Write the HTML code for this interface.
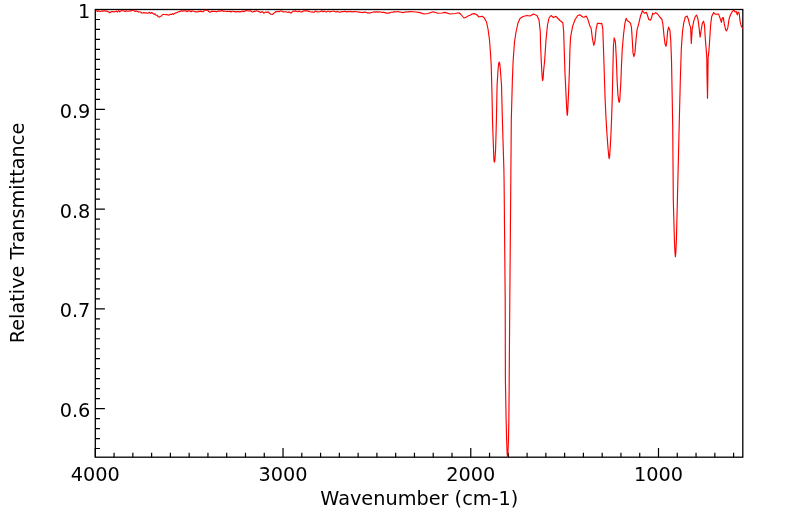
<!DOCTYPE html>
<html>
<head>
<meta charset="utf-8">
<title>IR Spectrum</title>
<style>
html,body{margin:0;padding:0;background:#fff;}
body{width:799px;height:516px;overflow:hidden;}
svg{display:block;}
text{font-family:"DejaVu Sans","Liberation Sans",sans-serif;font-size:19.3px;fill:#000;}
</style>
</head>
<body>
<svg width="799" height="516" viewBox="0 0 799 516">
<rect x="0" y="0" width="799" height="516" fill="#ffffff"/>
<rect x="95.3" y="9.5" width="647.5" height="447.7" fill="none" stroke="#000" stroke-width="1.3"/>
<path d="M95.30 457.2 v-9.2 M114.07 457.2 v-4.4 M132.85 457.2 v-4.4 M151.62 457.2 v-4.4 M170.39 457.2 v-4.4 M189.17 457.2 v-4.4 M207.94 457.2 v-4.4 M226.71 457.2 v-4.4 M245.49 457.2 v-4.4 M264.26 457.2 v-4.4 M283.03 457.2 v-9.2 M301.81 457.2 v-4.4 M320.58 457.2 v-4.4 M339.35 457.2 v-4.4 M358.13 457.2 v-4.4 M376.90 457.2 v-4.4 M395.67 457.2 v-4.4 M414.45 457.2 v-4.4 M433.22 457.2 v-4.4 M451.99 457.2 v-4.4 M470.77 457.2 v-9.2 M489.54 457.2 v-4.4 M508.31 457.2 v-4.4 M527.09 457.2 v-4.4 M545.86 457.2 v-4.4 M564.63 457.2 v-4.4 M583.41 457.2 v-4.4 M602.18 457.2 v-4.4 M620.95 457.2 v-4.4 M639.73 457.2 v-4.4 M658.50 457.2 v-9.2 M677.27 457.2 v-4.4 M696.05 457.2 v-4.4 M714.82 457.2 v-4.4 M733.59 457.2 v-4.4 M95.3 9.52 h9.6 M95.3 19.50 h4.75 M95.3 29.47 h4.75 M95.3 39.45 h4.75 M95.3 49.43 h4.75 M95.3 59.41 h4.75 M95.3 69.38 h4.75 M95.3 79.36 h4.75 M95.3 89.34 h4.75 M95.3 99.31 h4.75 M95.3 109.29 h9.6 M95.3 119.27 h4.75 M95.3 129.24 h4.75 M95.3 139.22 h4.75 M95.3 149.20 h4.75 M95.3 159.18 h4.75 M95.3 169.15 h4.75 M95.3 179.13 h4.75 M95.3 189.11 h4.75 M95.3 199.08 h4.75 M95.3 209.06 h9.6 M95.3 219.04 h4.75 M95.3 229.01 h4.75 M95.3 238.99 h4.75 M95.3 248.97 h4.75 M95.3 258.94 h4.75 M95.3 268.92 h4.75 M95.3 278.90 h4.75 M95.3 288.88 h4.75 M95.3 298.85 h4.75 M95.3 308.83 h9.6 M95.3 318.81 h4.75 M95.3 328.78 h4.75 M95.3 338.76 h4.75 M95.3 348.74 h4.75 M95.3 358.71 h4.75 M95.3 368.69 h4.75 M95.3 378.67 h4.75 M95.3 388.65 h4.75 M95.3 398.62 h4.75 M95.3 408.60 h9.6 M95.3 418.58 h4.75 M95.3 428.55 h4.75 M95.3 438.53 h4.75 M95.3 448.51 h4.75" fill="none" stroke="#000" stroke-width="1.2"/>
<polyline fill="none" stroke="#ff0000" stroke-width="1.15" stroke-linejoin="round" points="95.5,10.8 96.6,10.7 97.7,11.5 98.8,10.8 99.9,11.6 101.0,11.3 102.1,10.8 103.2,11.4 104.3,10.6 105.4,11.2 106.5,11.0 107.6,11.3 108.7,12.0 109.8,12.9 110.9,11.9 112.0,11.5 113.1,11.6 114.2,12.0 115.3,11.5 116.4,11.2 117.5,12.0 118.6,10.7 119.7,11.8 120.8,11.0 121.9,10.7 123.0,10.7 124.1,10.9 125.2,11.6 126.3,10.7 127.4,11.2 128.5,11.2 129.6,10.8 130.7,11.1 131.8,10.4 132.9,10.5 134.0,10.7 135.1,11.4 136.2,11.1 137.3,11.3 138.4,11.9 139.5,12.0 140.6,12.0 141.7,13.0 142.8,13.0 143.9,12.6 145.0,13.0 146.1,12.9 147.2,13.3 148.3,13.0 149.4,12.3 150.5,13.4 151.6,12.5 152.7,13.3 153.8,14.1 154.9,13.9 156.0,15.1 157.1,15.2 158.2,16.8 159.3,17.1 160.4,16.2 161.5,16.0 162.6,14.5 163.7,14.5 164.8,14.5 165.9,14.7 167.0,14.5 168.1,15.0 169.2,15.1 170.3,14.3 171.4,14.5 172.5,13.6 173.6,14.4 174.7,13.2 175.8,12.9 176.9,12.8 178.0,12.1 179.1,11.6 180.2,11.5 181.3,10.6 182.4,11.2 183.5,10.8 184.6,10.8 185.7,10.7 186.8,11.7 187.9,10.8 189.0,10.9 190.1,11.1 191.2,11.8 192.3,10.8 193.4,11.3 194.5,11.5 195.6,11.9 196.7,11.9 197.8,12.0 198.9,11.2 200.0,11.4 201.1,11.1 202.2,11.7 203.3,11.6 204.4,10.3 205.5,10.2 206.6,10.2 207.7,10.4 208.8,11.5 209.9,12.3 211.0,11.7 212.1,11.1 213.2,11.5 214.3,11.2 215.4,11.4 216.5,11.8 217.6,11.4 218.7,11.1 219.8,11.1 220.9,11.1 222.0,10.2 223.1,11.3 224.2,11.0 225.3,11.2 226.4,11.5 227.5,11.3 228.6,11.5 229.7,11.2 230.8,12.0 231.9,11.2 233.0,11.3 234.1,11.6 235.2,11.6 236.3,11.9 237.4,11.6 238.5,11.6 239.6,11.9 240.7,11.6 241.8,11.7 242.9,10.9 244.0,11.7 245.1,11.1 246.2,10.5 247.3,10.7 248.4,10.9 249.5,11.0 250.6,10.7 251.7,11.8 252.8,12.0 253.9,11.3 255.0,11.4 256.1,10.9 257.2,11.0 258.3,11.4 259.4,11.6 260.5,12.6 261.6,11.8 262.7,11.9 263.8,13.2 264.9,12.6 266.0,12.0 267.1,12.5 268.2,11.8 269.3,13.0 270.4,14.0 271.5,14.3 272.6,14.4 273.7,13.3 274.8,12.6 275.9,11.5 277.0,11.7 278.1,11.3 279.2,11.7 280.3,11.0 281.4,10.9 282.5,11.7 283.6,11.9 284.7,11.7 285.8,11.8 286.9,12.1 288.0,12.3 289.1,11.9 290.2,12.8 291.3,12.8 292.4,11.7 293.5,11.1 294.6,11.1 295.7,10.9 296.8,11.5 297.9,11.8 299.0,11.1 300.1,11.8 301.2,11.9 302.3,11.8 303.4,11.0 304.5,10.8 305.6,10.8 306.7,10.8 307.8,10.8 308.9,11.4 310.0,11.8 311.1,12.0 312.2,11.9 313.3,12.3 314.4,12.2 315.5,11.0 316.6,11.6 317.7,12.0 318.8,11.8 319.9,11.7 321.0,11.3 322.1,10.9 323.2,11.8 324.3,11.1 325.4,11.8 326.5,12.0 327.6,11.2 328.7,11.2 329.8,11.9 330.9,11.5 332.0,11.2 333.1,11.2 334.2,11.3 335.3,11.8 336.4,11.8 337.5,11.4 338.6,12.0 339.7,12.1 340.8,11.9 341.9,11.6 343.0,11.7 344.1,11.4 345.2,11.3 346.3,11.9 347.4,11.6 348.5,11.5 349.6,11.7 350.7,11.4 351.8,11.8 352.9,11.8 354.0,11.5 355.1,11.6 356.2,11.7 357.3,11.8 358.4,12.1 359.5,12.1 360.6,12.3 361.7,12.3 362.8,12.7 363.9,12.1 365.0,12.0 366.1,12.3 367.2,12.8 368.3,12.8 369.4,13.2 370.5,12.7 371.6,12.5 372.7,12.3 373.8,11.8 374.9,12.1 376.0,11.9 377.1,11.7 378.2,12.3 379.3,11.8 380.4,12.0 381.5,12.3 382.6,12.4 383.7,12.3 384.8,12.6 385.9,12.9 387.0,13.3 388.1,13.1 389.2,13.1 390.3,12.5 391.4,12.2 392.5,12.3 393.6,11.9 394.7,11.8 395.8,11.8 396.9,11.7 398.0,11.6 399.1,11.9 400.2,12.0 401.3,12.3 402.4,12.6 403.5,12.4 404.6,12.2 405.7,11.9 406.8,12.0 407.9,11.8 409.0,11.8 410.0,11.5 416.0,12.0 420.0,12.6 424.0,14.0 428.0,13.5 433.0,11.8 438.0,13.3 442.0,13.0 445.0,12.4 450.0,14.0 455.0,13.5 459.0,12.8 461.0,14.5 464.0,18.0 466.0,17.2 468.0,16.0 470.0,15.2 472.0,14.0 474.0,13.6 476.5,14.5 479.0,17.0 482.0,16.2 484.0,17.5 486.5,22.0 488.0,29.0 489.5,40.0 490.6,55.0 491.2,65.0 491.9,90.0 492.5,120.0 493.0,135.0 493.5,149.0 493.8,157.0 494.0,160.8 494.4,162.2 494.8,160.8 495.1,157.0 495.6,149.0 496.0,135.0 496.4,120.0 497.1,85.0 498.0,70.0 498.7,63.5 499.2,62.0 499.7,63.5 500.4,70.0 501.5,85.0 502.4,120.0 503.9,170.0 504.1,182.0 505.2,300.0 505.4,380.0 506.1,419.0 506.7,442.0 507.1,453.0 507.5,457.1 507.9,453.0 508.4,442.0 508.9,419.0 509.2,380.0 509.8,300.0 510.8,182.0 511.3,120.0 512.4,79.0 513.2,60.0 514.5,42.0 516.0,32.0 518.0,23.0 520.0,18.5 523.0,16.5 527.0,15.5 530.0,16.0 533.5,14.0 537.0,15.5 539.0,20.0 540.3,32.0 540.6,45.0 541.2,60.0 541.8,71.0 542.3,78.5 542.7,80.7 543.1,78.5 543.6,71.0 544.7,60.0 546.0,40.0 547.5,25.0 549.0,18.0 551.0,15.5 553.5,17.5 556.0,16.3 558.0,18.5 560.0,20.5 562.8,22.7 563.7,31.5 563.9,40.0 564.4,55.0 564.9,71.0 566.0,94.3 566.6,106.7 567.0,113.5 567.3,115.3 567.6,113.5 567.9,106.7 568.5,94.3 569.4,71.0 569.9,50.0 570.6,37.0 572.6,26.4 575.1,19.5 577.6,15.7 579.8,14.7 582.7,17.0 584.2,17.3 586.2,16.1 587.7,18.9 589.6,25.2 591.1,28.3 592.5,39.0 593.8,45.3 594.9,41.6 596.1,29.0 597.4,23.3 599.3,23.3 600.3,23.8 601.8,23.3 602.8,29.0 603.7,55.0 605.1,99.0 606.0,118.0 606.9,133.0 608.0,148.0 608.8,156.5 609.2,158.6 609.6,156.5 610.2,148.0 611.0,133.0 611.7,115.0 612.3,97.0 613.1,60.0 613.5,45.0 614.2,37.8 615.4,41.6 616.3,58.0 617.1,80.3 617.9,94.5 618.7,100.8 619.2,102.4 619.7,100.8 620.1,94.5 620.9,81.0 621.5,65.0 622.2,50.0 623.6,34.0 624.9,23.3 626.1,18.3 627.4,20.8 629.0,21.7 630.5,23.3 631.5,27.7 632.4,41.6 633.0,52.9 633.9,56.7 634.9,52.9 636.2,37.8 637.1,29.6 638.7,23.9 640.6,15.7 642.5,10.7 643.8,12.6 644.6,13.2 646.3,12.3 647.2,14.5 648.8,19.5 650.4,20.2 651.5,18.0 652.7,13.2 653.8,14.1 655.7,12.6 657.6,14.0 659.8,17.0 662.0,19.5 663.0,25.2 664.1,36.5 665.1,44.1 666.0,46.3 666.8,41.6 667.6,31.5 668.6,27.1 669.9,30.2 670.8,41.6 671.5,60.0 671.9,81.0 672.7,125.0 673.3,200.0 674.4,240.0 675.0,253.0 675.4,256.8 675.8,253.0 676.4,240.0 677.4,200.0 679.2,125.0 680.3,81.0 680.8,65.0 681.3,49.0 682.5,31.5 683.8,22.7 685.3,17.0 687.2,16.1 688.4,19.5 689.7,25.2 690.6,27.1 691.3,43.5 692.2,29.0 693.7,21.4 695.3,16.4 696.6,15.1 697.9,18.9 699.1,27.7 700.1,37.2 701.0,31.5 702.3,23.3 703.5,21.2 704.5,25.2 705.3,38.5 706.3,50.9 706.8,58.0 707.0,75.0 707.5,98.3 707.9,75.0 708.1,58.0 708.9,50.9 709.4,44.0 710.6,25.2 711.7,16.4 713.6,12.6 715.5,14.2 718.6,14.1 719.9,17.6 721.4,22.4 722.2,18.3 723.3,17.6 724.3,23.9 725.6,29.6 726.6,30.9 727.8,27.7 729.1,18.9 730.6,14.5 732.5,11.3 734.0,10.1 735.0,12.0 736.3,11.6 737.3,14.9 738.2,12.0 739.2,13.2 740.1,21.4 741.3,26.4 742.8,28.3"/>
<text x="95.3" y="481" text-anchor="middle">4000</text>
<text x="283.0" y="481" text-anchor="middle">3000</text>
<text x="470.8" y="481" text-anchor="middle">2000</text>
<text x="658.5" y="481" text-anchor="middle">1000</text>
<text x="90.3" y="18.1" text-anchor="end">1</text>
<text x="90.3" y="117.9" text-anchor="end">0.9</text>
<text x="90.3" y="217.7" text-anchor="end">0.8</text>
<text x="90.3" y="317.4" text-anchor="end">0.7</text>
<text x="90.3" y="417.2" text-anchor="end">0.6</text>
<text x="419.3" y="504.6" text-anchor="middle">Wavenumber (cm-1)</text>
<text transform="translate(24.4 233) rotate(-90)" text-anchor="middle">Relative Transmittance</text>
</svg>
</body>
</html>
